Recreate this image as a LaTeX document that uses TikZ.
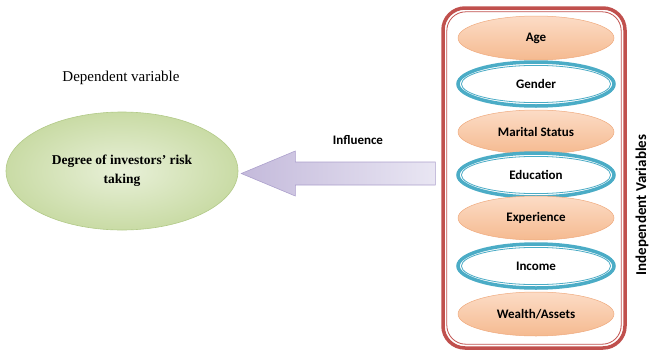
\documentclass[tikz,border=0pt]{standalone}
\usepackage{fontspec}
\setmainfont{Liberation Serif}
\newfontfamily\calfont{Carlito}
\usetikzlibrary{shapes.geometric}
\definecolor{redb}{HTML}{C0504D}
\definecolor{tealb}{HTML}{4BACC6}
\definecolor{orT}{HTML}{FCDCC6}
\definecolor{orB}{HTML}{F5BA90}
\definecolor{orD}{HTML}{EFAA7E}
\definecolor{grIn}{HTML}{E8F0D8}
\definecolor{grOut}{HTML}{C9DBA5}
\definecolor{grD}{HTML}{B2CA88}
\definecolor{arL}{HTML}{C4BADB}
\definecolor{arR}{HTML}{E9E6F3}
\definecolor{arD}{HTML}{ACA0CC}
\begin{document}
\begin{tikzpicture}[x=1pt,y=-1pt,
  orangevar/.style={ellipse, minimum width=156pt, minimum height=44pt, inner sep=0pt,
    top color=orT, bottom color=orB, draw=orD, line width=.5pt,
    font=\calfont\bfseries\fontsize{13}{15}\selectfont},
  bluevar/.style={ellipse, minimum width=156pt, minimum height=44pt, inner sep=0pt,
    fill=white, draw=tealb, line width=3.5pt,
    path picture={\draw[tealb, line width=.8pt] (path picture bounding box.center) ellipse (74.6pt and 18.6pt);},
    font=\calfont\bfseries\fontsize{13}{15}\selectfont},
  groupbox/.style={rectangle, rounded corners=22pt, draw=redb, line width=3.5pt,
    minimum width=182pt, minimum height=340pt, inner sep=0pt,
    path picture={\draw[redb, line width=.8pt, rounded corners=19pt]
      ([xshift=3.8pt,yshift=3.8pt]path picture bounding box.south west) rectangle
      ([xshift=-3.8pt,yshift=-3.8pt]path picture bounding box.north east);}},
  depvar/.style={ellipse, minimum width=232pt, minimum height=118pt, inner sep=0pt,
    inner color=grIn, outer color=grOut, draw=grD, line width=.6pt, align=center,
    font=\bfseries\fontsize{13.5}{19}\selectfont},
  blockarrow/.style={draw=arD, line width=.6pt, left color=arL, right color=arR},
  sanslabel/.style={font=\calfont\bfseries\fontsize{13}{15}\selectfont, inner sep=0pt}
]
\useasboundingbox (0,0) rectangle (651,351);

\node[font=\fontsize{15}{18}\selectfont, inner sep=0pt] (deplab) at (121,78) {Dependent variable};
\node[depvar] (dep) at (122,171) {Degree of investors’ risk\\taking};

\node[groupbox] (box) at (534,178) {};
\node[orangevar] (age) at (536,38) {Age};
\node[bluevar] (gender) at (536,84) {Gender};
\node[orangevar] (marital) at (536,132) {Marital Status};
\node[bluevar] (education) at (536,175) {Education};
\node[orangevar] (experience) at (536,218) {Experience};
\node[bluevar] (income) at (536,266) {Income};
\node[orangevar] (wealth) at (536,314) {Wealth/Assets};

\node[sanslabel, font=\calfont\bfseries\fontsize{15}{18}\selectfont, rotate=90] (indlab) at (642,205) {Independent Variables};

\coordinate (tip) at ([xshift=3pt,yshift=-2.5pt]dep.east);
\path[blockarrow] (tip) -- ++(54,-22.5) -- ++(0,11) -- ++(140,0) -- ++(0,23) -- ++(-140,0) -- ++(0,11) -- cycle;
\node[sanslabel] (infl) at (358,140) {Influence};
\end{tikzpicture}
\end{document}
